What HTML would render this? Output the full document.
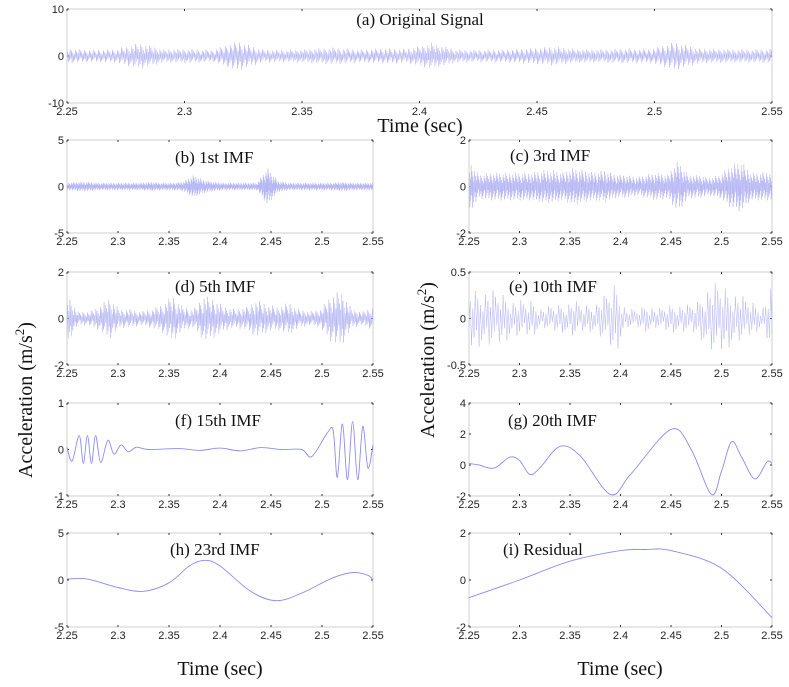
<!DOCTYPE html>
<html><head><meta charset="utf-8"><style>
body{margin:0;background:#fff}
svg{display:block}
.tk{font-family:"Liberation Sans",sans-serif;font-size:11px;fill:#222}
.tt{font-family:"Liberation Serif",serif;font-size:17px;fill:#111}
.lb{font-family:"Liberation Serif",serif;font-size:20px;fill:#111}
</style></head><body>
<svg id="fig" width="789" height="687">
<text class="lb" x="420" y="132" text-anchor="middle">Time (sec)</text>
<text class="lb" x="220" y="675" text-anchor="middle">Time (sec)</text>
<text class="lb" x="620" y="675" text-anchor="middle">Time (sec)</text>
<text class="lb" transform="translate(32,400) rotate(-90)" text-anchor="middle">Acceleration (m/s<tspan dy="-8" font-size="13">2</tspan><tspan dy="8">)</tspan></text>
<text class="lb" transform="translate(434,360) rotate(-90)" text-anchor="middle">Acceleration (m/s<tspan dy="-8" font-size="13">2</tspan><tspan dy="8">)</tspan></text>
</svg>
<script>
// ---- data ----
const xTicks = [2.25,2.3,2.35,2.4,2.45,2.5,2.55];
const xTickLabels = ["2.25","2.3","2.35","2.4","2.45","2.5","2.55"];
const envA = [1.6,1.3,1.4,2.8,1.4,1.5,1.3,3.2,1.4,1.3,1.5,1.8,1.4,1.6,1.5,2.8,1.4,1.3,1.4,1.6,2.0,1.5,1.4,1.6,1.5,3.0,1.6,1.5,1.4,1.5];
const envB = [0.4,0.5,0.5,0.4,0.4,0.4,0.4,0.4,0.5,0.4,0.4,0.5,1.2,0.7,0.5,0.4,0.4,0.4,0.4,2.0,0.6,0.4,0.4,0.4,0.4,0.4,0.5,0.4,0.4,0.4];
const envC = [1.1,0.5,0.6,0.6,0.6,0.6,0.6,0.7,0.7,0.6,0.8,0.7,0.6,0.7,0.5,0.5,0.4,0.5,0.6,0.5,1.1,0.5,0.5,0.4,0.5,0.9,1.1,0.6,0.6,0.6];
const envD = [1.1,0.3,0.3,0.5,0.9,0.4,0.4,0.3,0.4,0.6,1.0,0.5,0.4,1.0,0.8,0.5,0.4,0.5,0.8,0.6,0.5,0.7,0.4,0.3,0.4,1.0,1.2,0.4,0.3,0.5];
const envE = [0.35,0.3,0.3,0.3,0.2,0.2,0.2,0.1,0.15,0.15,0.2,0.15,0.15,0.25,0.4,0.1,0.1,0.15,0.1,0.15,0.15,0.15,0.2,0.35,0.4,0.3,0.25,0.2,0.1,0.35];
const fT = [2.25,2.255,2.262,2.266,2.27,2.274,2.278,2.283,2.29,2.296,2.303,2.31,2.318,2.33,2.36,2.38,2.4,2.42,2.44,2.46,2.48,2.49,2.505,2.511,2.515,2.52,2.525,2.53,2.535,2.54,2.545,2.55];
const fV = [0.05,-0.25,0.3,-0.3,0.3,-0.3,0.3,-0.28,0.2,-0.1,0.1,-0.05,0.05,0,0.02,-0.02,0.03,-0.03,0.04,0,0,-0.15,0.35,0.4,-0.6,0.55,-0.65,0.6,-0.65,0.5,-0.4,0.1];
const gT = [2.25,2.26,2.275,2.29,2.3,2.31,2.32,2.34,2.36,2.39,2.41,2.45,2.47,2.49,2.5,2.51,2.52,2.533,2.545,2.55];
const gV = [0.1,0,-0.2,0.5,0.3,-0.6,-0.2,1.2,0.6,-1.9,-0.6,2.3,1.0,-1.9,-0.4,1.5,0.5,-0.9,0.2,0.1];
const hT = [2.25,2.27,2.3,2.325,2.35,2.37,2.385,2.4,2.43,2.455,2.48,2.51,2.53,2.545,2.55];
const hV = [0.1,0.1,-0.8,-1.2,-0.3,1.5,2.1,1.5,-1.2,-2.2,-1.4,0.2,0.8,0.5,0];
const iT = [2.25,2.3,2.35,2.4,2.425,2.45,2.5,2.55];
const iV = [-0.75,0,0.8,1.25,1.3,1.25,0.5,-1.6];

const panels = [
 {id:'a',x0:67,x1:772,y0:9,y1:103,ymin:-10,ymax:10,yt:[-10,0,10],title:'(a)   Original Signal',tx:420,ty:25,anchor:'middle',env:envA,n:1100},
 {id:'b',x0:67,x1:373,y0:140,y1:233,ymin:-5,ymax:5,yt:[-5,0,5],title:'(b) 1st IMF',tx:175,ty:163,env:envB,n:900},
 {id:'c',x0:469,x1:772,y0:140,y1:233,ymin:-2,ymax:2,yt:[-2,0,2],title:'(c) 3rd IMF',tx:510,ty:161,env:envC,n:700},
 {id:'d',x0:67,x1:373,y0:272,y1:365,ymin:-2,ymax:2,yt:[-2,0,2],title:'(d) 5th IMF',tx:175,ty:292,env:envD,n:520},
 {id:'e',x0:469,x1:772,y0:272,y1:365,ymin:-0.5,ymax:0.5,yt:[-0.5,0,0.5],title:'(e) 10th IMF',tx:509,ty:292,env:envE,n:240},
 {id:'f',x0:67,x1:373,y0:403,y1:496,ymin:-1,ymax:1,yt:[-1,0,1],title:'(f) 15th IMF',tx:175,ty:426,pt:fT,pv:fV},
 {id:'g',x0:469,x1:772,y0:403,y1:496,ymin:-2,ymax:4,yt:[-2,0,2,4],title:'(g) 20th IMF',tx:508,ty:426,pt:gT,pv:gV},
 {id:'h',x0:67,x1:373,y0:533,y1:627,ymin:-5,ymax:5,yt:[-5,0,5],title:'(h) 23rd IMF',tx:170,ty:555,pt:hT,pv:hV},
 {id:'i',x0:469,x1:772,y0:533,y1:627,ymin:-2,ymax:2,yt:[-2,0,2],title:'(i) Residual',tx:503,ty:555,pt:iT,pv:iV}
];
const NS='http://www.w3.org/2000/svg';
const svg=document.getElementById('fig');
function mk(tag,attrs,parent){const e=document.createElementNS(NS,tag);for(const k in attrs)e.setAttribute(k,attrs[k]);(parent||svg).appendChild(e);return e;}
function catmull(pts){let d='M'+pts[0][0].toFixed(1)+','+pts[0][1].toFixed(1);
 for(let i=0;i<pts.length-1;i++){const p0=pts[Math.max(0,i-1)],p1=pts[i],p2=pts[i+1],p3=pts[Math.min(pts.length-1,i+2)];
  const c1=[p1[0]+(p2[0]-p0[0])/6,p1[1]+(p2[1]-p0[1])/6],c2=[p2[0]-(p3[0]-p1[0])/6,p2[1]-(p3[1]-p1[1])/6];
  d+='C'+c1[0].toFixed(1)+','+c1[1].toFixed(1)+' '+c2[0].toFixed(1)+','+c2[1].toFixed(1)+' '+p2[0].toFixed(1)+','+p2[1].toFixed(1);}
 return d;}
panels.forEach(p=>{
 const g=mk('g',{});
 
 
 const sx=t=>p.x0+(t-2.25)/(0.30)*(p.x1-p.x0);
 const sy=v=>p.y1-(v-p.ymin)/(p.ymax-p.ymin)*(p.y1-p.y0);
 const box=mk('rect',{x:p.x0,y:p.y0,width:p.x1-p.x0,height:p.y1-p.y0,fill:'#fff',stroke:'#cfcfcf','stroke-width':1},g);
 
 
 xTicks.forEach((t,k)=>{const x=sx(t);
  mk('line',{x1:x,x2:x,y1:p.y1,y2:p.y1-2,stroke:'#333','stroke-width':1},g);
  mk('line',{x1:x,x2:x,y1:p.y0,y2:p.y0+2,stroke:'#333','stroke-width':1},g);
  const tl=mk('text',{x:x,y:p.y1+12,'text-anchor':'middle',class:'tk'},g);tl.textContent=xTickLabels[k];
  
  });
 p.yt.forEach(v=>{const y=sy(v);
  mk('line',{x1:p.x0,x2:p.x0+2,y1:y,y2:y,stroke:'#333','stroke-width':1},g);
  mk('line',{x1:p.x1,x2:p.x1-2,y1:y,y2:y,stroke:'#333','stroke-width':1},g);
  const tl=mk('text',{x:p.x0-3,y:y+4,'text-anchor':'end',class:'tk'},g);tl.textContent=String(v);
  
  });
 let d;
 if(p.env){const pts=[];const m=p.env.length;
  for(let i=0;i<=p.n;i++){const f=i/p.n*(m-1);const j=Math.min(m-2,Math.floor(f));const a=p.env[j]+(p.env[j+1]-p.env[j])*(f-j);
   const s=(i%2?1:-1)*(0.25+0.75*((i*37)%11)/10);pts.push([sx(2.25+0.3*i/p.n),sy(a*s)]);}
  d='M'+pts.map(q=>q[0].toFixed(2)+','+q[1].toFixed(1)).join('L');}
 else{d=catmull(p.pt.map((t,k)=>[sx(t),sy(p.pv[k])]));}
 const ln=mk('path',{d:d,fill:'none',stroke:p.env?'#b4b4f4':'#8c8cf0','stroke-width':p.env?0.5:0.9},g);
 
 
 const tt=mk('text',{x:p.tx,y:p.ty,class:'tt','text-anchor':p.anchor||'start'},g);tt.textContent=p.title;
 
 
});
</script>
</body></html>
